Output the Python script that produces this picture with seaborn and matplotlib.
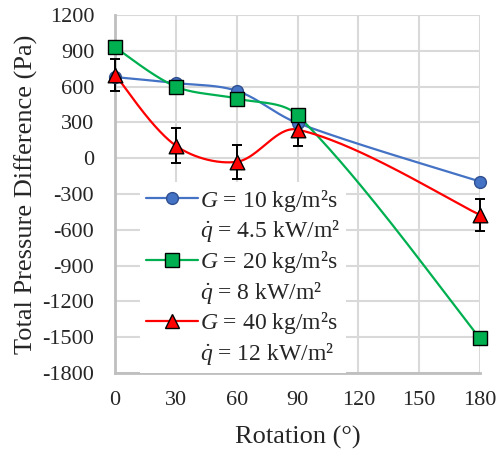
import numpy as np
import pandas as pd
import seaborn as sns
import matplotlib
matplotlib.use("Agg")
import matplotlib.pyplot as plt
from matplotlib.lines import Line2D

# ---- data ----
rotation = [0, 30, 60, 90, 180]
g10_values = [680, 630, 565, 295, -195]
g20_values = [930, 600, 500, 360, -1510]
g40_values = [700, 105, -30, 240, -475]
g40_err = [135, 145, 140, 140, 135]

series_names = ["$G$ = 10 kg/m²s", "$G$ = 20 kg/m²s", "$G$ = 40 kg/m²s"]
heat_labels = [r"$\dot{q}$ = 4.5 kW/m²", r"$\dot{q}$ = 8 kW/m²", r"$\dot{q}$ = 12 kW/m²"]
x_ticks = [0, 30, 60, 90, 120, 150, 180]
y_ticks = [1200, 900, 600, 300, 0, -300, -600, -900, -1200, -1500, -1800]
x_range = (0, 180)
y_range = (-1800, 1200)

colors = ["#4472C4", "#00B050", "#FF0000"]
markers = ["o", "s", "^"]
msizes = [8.5, 9.5, 10.5]
edgecols = ["#2F4F8F", "black", "black"]

sns.set_theme(style="white")
plt.rcParams["font.family"] = ["Liberation Serif", "DejaVu Serif"]
plt.rcParams["mathtext.fontset"] = "custom"
plt.rcParams["mathtext.rm"] = "Liberation Serif"
plt.rcParams["mathtext.it"] = "Liberation Serif:italic"
plt.rcParams["axes.unicode_minus"] = False

FIG_W, FIG_H, DPI = 4.98, 4.55, 100
AX_RECT = [0.231, 0.180, 0.733, 0.787]
sx_px = AX_RECT[2] * FIG_W * DPI / (x_range[1] - x_range[0])
sy_px = AX_RECT[3] * FIG_H * DPI / (y_range[1] - y_range[0])


def smooth_curve(x, y, n=60):
    # Bezier smoothing in screen space with chord-proportional control arms
    pts = np.column_stack([np.asarray(x, float) * sx_px, np.asarray(y, float) * sy_px])
    m = len(pts)
    d = [np.linalg.norm(pts[i + 1] - pts[i]) for i in range(m - 1)]
    out = []
    for i in range(m - 1):
        p1, p2 = pts[i], pts[i + 1]
        if i > 0:
            tan1 = pts[i + 1] - pts[i - 1]
            c1 = p1 + tan1 / 3.0 * d[i] / (d[i - 1] + d[i])
        else:
            c1 = p1 + (p2 - p1) / 3.0 * 0.5
        if i + 2 < m:
            tan2 = pts[i + 2] - pts[i]
            c2 = p2 - tan2 / 3.0 * d[i] / (d[i] + d[i + 1])
        else:
            c2 = p2 - (p2 - p1) / 3.0 * 0.5
        t = np.linspace(0, 1, n)[:, None]
        seg = ((1 - t) ** 3) * p1 + 3 * ((1 - t) ** 2) * t * c1 + 3 * (1 - t) * t ** 2 * c2 + t ** 3 * p2
        out.append(seg if i == 0 else seg[1:])
    s = np.vstack(out)
    return s[:, 0] / sx_px, s[:, 1] / sy_px


fig = plt.figure(figsize=(FIG_W, FIG_H), dpi=DPI)
ax = fig.add_axes(AX_RECT)

all_vals = [g10_values, g20_values, g40_values]
for k, vals in enumerate(all_vals):
    sx, sy = smooth_curve(rotation, vals)
    df = pd.DataFrame({"x": sx, "y": sy})
    sns.lineplot(data=df, x="x", y="y", sort=False, estimator=None, color=colors[k],
                 lw=1.6, ax=ax, zorder=3 + k)
    if k == 2:
        ax.errorbar(rotation, vals, yerr=g40_err, fmt="none", ecolor="black",
                    elinewidth=1.4, capsize=3.5, capthick=1.4, zorder=3 + k, clip_on=False)
    pdf = pd.DataFrame({"x": rotation, "y": vals})
    sns.scatterplot(data=pdf, x="x", y="y", marker=markers[k], s=msizes[k] ** 2,
                    color=colors[k], edgecolor=edgecols[k],
                    linewidth=1.0, ax=ax, zorder=10 + k, clip_on=False)

ax.set_xlim(*x_range)
ax.set_ylim(*y_range)
ax.set_xticks(x_ticks)
ax.set_yticks(y_ticks)
ax.tick_params(axis="y", labelsize=16, length=0, pad=15)
ax.tick_params(axis="x", labelsize=16, length=0, pad=13)
ax.grid(True, color="#D9D9D9", lw=1.5)
ax.set_axisbelow(True)
for side in ["top", "right"]:
    ax.spines[side].set_visible(False)
for side in ["left", "bottom"]:
    ax.spines[side].set_color("#BFBFBF")
    ax.spines[side].set_linewidth(2.0)

ax.set_xlabel("Rotation (°)", fontsize=19, labelpad=11)
ax.set_ylabel("Total Pressure Difference (Pa)", fontsize=19, labelpad=3)

handles = []
labels = []
for k in range(3):
    handles.append(Line2D([], [], color=colors[k], lw=1.6, marker=markers[k],
                          markersize=msizes[k], markerfacecolor=colors[k],
                          markeredgecolor=edgecols[k], markeredgewidth=1.0))
    labels.append(series_names[k])
    handles.append(Line2D([], [], color="none"))
    labels.append(heat_labels[k])

leg = ax.legend(handles, labels, loc="lower left", bbox_to_anchor=(0.068, 0.0),
                fontsize=17, frameon=True, handlelength=2.2, handletextpad=0.1,
                labelspacing=0.2, borderpad=0.25, borderaxespad=0.0)
leg.get_frame().set_facecolor("white")
leg.get_frame().set_edgecolor("none")
leg.get_frame().set_alpha(1.0)
leg.get_frame().set_boxstyle("square", pad=0)
leg.set_zorder(20)

fig.savefig("out.png", dpi=DPI)
